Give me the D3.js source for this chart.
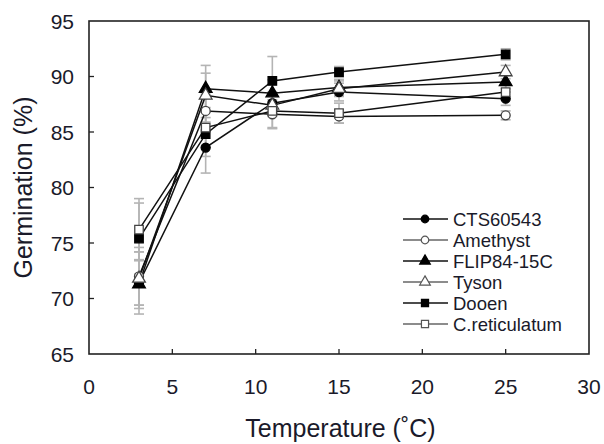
<!DOCTYPE html>
<html><head><meta charset="utf-8">
<script src="https://cdn.jsdelivr.net/npm/d3@7"></script>
<style>body{margin:0;background:#fff}svg{display:block}text{font-family:"Liberation Sans",Arial,sans-serif;fill:#1a1a2a}</style>
</head><body><svg id="c" width="604" height="444"></svg>
<script>
const temps = [3, 7, 11, 15, 25];
const seriesNames = ["CTS60543", "Amethyst", "FLIP84-15C", "Tyson", "Dooen", "C.reticulatum"];
const cts = [71.4, 83.6, 87.6, 88.6, 88.0];
const amethyst = [72.0, 86.9, 86.6, 86.4, 86.5];
const flip = [71.3, 88.9, 88.5, 89.0, 89.5];
const tyson = [71.8, 88.3, 87.4, 88.9, 90.4];
const dooen = [75.4, 84.8, 89.6, 90.4, 92.0];
const cret = [76.2, 85.4, 86.9, 86.7, 88.6];
const ctsErr = [2.8, 2.3, 1.0, 0.8, 0.6];
const amethystErr = [2.6, 1.5, 1.3, 0.6, 0.4];
const flipErr = [2.2, 2.1, 1.2, 0.7, 0.6];
const tysonErr = [2.4, 2.0, 1.0, 0.7, 0.6];
const dooenErr = [3.2, 2.0, 2.2, 0.5, 0.5];
const cretErr = [2.8, 1.8, 1.5, 0.9, 0.6];
const xTicks = [0, 5, 10, 15, 20, 25, 30];
const yTicks = [65, 70, 75, 80, 85, 90, 95];

const series = [
  {name: seriesNames[0], v: cts, e: ctsErr, shape: "circle", filled: true},
  {name: seriesNames[1], v: amethyst, e: amethystErr, shape: "circle", filled: false},
  {name: seriesNames[2], v: flip, e: flipErr, shape: "triangle", filled: true},
  {name: seriesNames[3], v: tyson, e: tysonErr, shape: "triangle", filled: false},
  {name: seriesNames[4], v: dooen, e: dooenErr, shape: "square", filled: true},
  {name: seriesNames[5], v: cret, e: cretErr, shape: "square", filled: false}
];

const svg = d3.select("#c");
const L = 89, R = 589, T = 21, B = 354;
const x = d3.scaleLinear().domain([0, 30]).range([L, R]);
const y = d3.scaleLinear().domain([65, 95]).range([B, T]);

// error bars
const eg = svg.append("g").attr("stroke", "#b4b4b4").attr("stroke-width", 1.6).attr("fill", "none");
series.forEach(s => {
  temps.forEach((t, i) => {
    const cx = x(t), y1 = y(s.v[i] + s.e[i]), y2 = y(s.v[i] - s.e[i]);
    eg.append("line").attr("x1", cx).attr("x2", cx).attr("y1", y1).attr("y2", y2);
    eg.append("line").attr("x1", cx - 5).attr("x2", cx + 5).attr("y1", y1).attr("y2", y1);
    eg.append("line").attr("x1", cx - 5).attr("x2", cx + 5).attr("y1", y2).attr("y2", y2);
  });
});

// lines
const line = d3.line().x((d, i) => x(temps[i])).y(d => y(d));
series.forEach(s => {
  svg.append("path").attr("d", line(s.v)).attr("fill", "none").attr("stroke", "#111").attr("stroke-width", 1.5);
});

function symPath(shape, size) {
  const t = shape === "circle" ? d3.symbolCircle : shape === "square" ? d3.symbolSquare : d3.symbolTriangle;
  return d3.symbol().type(t).size(size)();
}
const sizes = {circle: 64, square: 72, triangle: 70};
series.forEach(s => {
  temps.forEach((t, i) => {
    svg.append("path").attr("d", symPath(s.shape, sizes[s.shape]))
      .attr("transform", `translate(${x(t)},${y(s.v[i])})`)
      .attr("fill", s.filled ? "#000" : "#fff")
      .attr("stroke", s.filled ? "#000" : "#444").attr("stroke-width", 1.3);
  });
});

// frame
svg.append("rect").attr("x", L).attr("y", T).attr("width", R - L).attr("height", B - T)
  .attr("fill", "none").attr("stroke", "#222").attr("stroke-width", 1.6);

// ticks inward
const ag = svg.append("g").attr("stroke", "#222").attr("stroke-width", 1.3);
xTicks.slice(1, -1).forEach(t => ag.append("line").attr("x1", x(t)).attr("x2", x(t)).attr("y1", B).attr("y2", B - 5));
yTicks.slice(1, -1).forEach(t => ag.append("line").attr("x1", L).attr("x2", L + 5).attr("y1", y(t)).attr("y2", y(t)));

// tick labels
svg.append("g").selectAll("text").data(xTicks).join("text")
  .attr("x", d => x(d)).attr("y", 394).attr("text-anchor", "middle").attr("font-size", 21).text(d => d);
svg.append("g").selectAll("text").data(yTicks).join("text")
  .attr("x", 74).attr("y", d => y(d) + 7.5).attr("text-anchor", "end").attr("font-size", 21).text(d => d);

// axis titles
svg.append("text").attr("x", 340.5).attr("y", 437).attr("text-anchor", "middle").attr("font-size", 25).text("Temperature (˚C)");
svg.append("text").attr("transform", `translate(32,${(T + B) / 2}) rotate(-90)`).attr("text-anchor", "middle").attr("font-size", 25).text("Germination (%)");

// legend
const lg = svg.append("g");
series.forEach((s, i) => {
  const ly = 219 + i * 21;
  lg.append("line").attr("x1", 403).attr("x2", 448).attr("y1", ly).attr("y2", ly)
    .attr("stroke", s.filled ? "#111" : "#666").attr("stroke-width", 1.5);
  lg.append("path").attr("d", symPath(s.shape, sizes[s.shape] * 0.7))
    .attr("transform", `translate(425,${ly})`)
    .attr("fill", s.filled ? "#000" : "#fff").attr("stroke", s.filled ? "#000" : "#555").attr("stroke-width", 1.2);
  lg.append("text").attr("x", 453).attr("y", ly + 6.5).attr("font-size", 18.5).text(s.name);
});
</script></body></html>
